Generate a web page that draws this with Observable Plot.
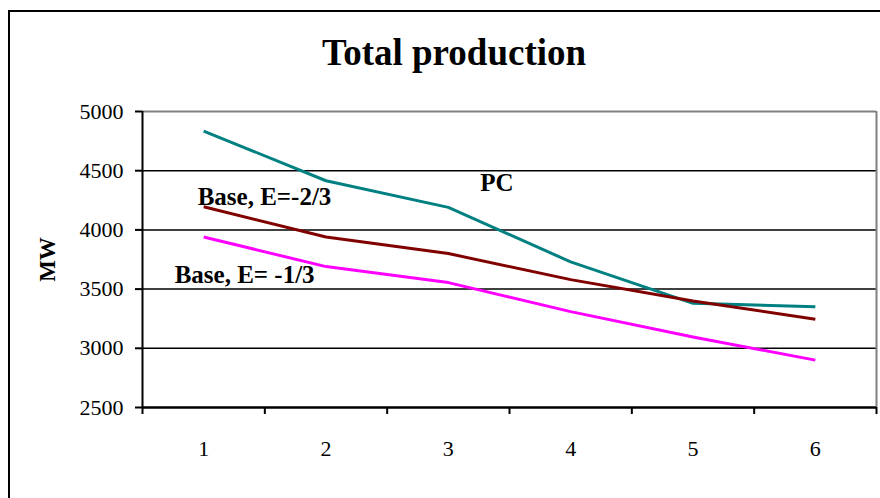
<!DOCTYPE html>
<html><head><meta charset="utf-8">
<script src="https://cdn.jsdelivr.net/npm/d3@7"></script>
<script src="https://cdn.jsdelivr.net/npm/@observablehq/plot@0.6"></script>
<style>
html,body{margin:0;padding:0;background:#fff;overflow:hidden;}
#wrap{position:relative;width:880px;height:498px;overflow:hidden;font-family:"Liberation Serif","Times New Roman",serif;}
#frame{position:absolute;left:8px;top:10px;width:900px;height:600px;border:2px solid #000;box-sizing:border-box;pointer-events:none;}
#title{position:absolute;left:0;top:34px;width:908px;text-align:center;font-size:37px;line-height:37px;font-weight:bold;color:#000;}
#chart{position:absolute;left:0;top:0;}
</style></head>
<body>
<div id="wrap">
  <div id="chart"></div>
  <div id="frame"></div>
  <div id="title">Total production</div>
</div>
<script>
const categories = [1, 2, 3, 4, 5, 6];
const pc        = [4835, 4415, 4190, 3730, 3380, 3350];
const baseTwo   = [4195, 3940, 3800, 3580, 3400, 3245];
const baseOne   = [3940, 3690, 3555, 3310, 3095, 2900];
const seriesNames = ["PC", "Base, E=-2/3", "Base, E= -1/3"];
const yTicks = [2500, 3000, 3500, 4000, 4500, 5000];
const gridTicks = [3000, 3500, 4000, 4500];
const yLabel = "MW";

const colors = {"PC": "#008080", "Base, E=-2/3": "#800000", "Base, E= -1/3": "#FF00FF"};
const seriesValues = [pc, baseTwo, baseOne];
const rows = seriesNames.flatMap((s, i) => categories.map((c, j) => ({series: s, x: c, y: seriesValues[i][j]})));
const bounds = [categories[0] - 0.5, ...categories.map(c => c + 0.5)];

const font = "Liberation Serif, Times New Roman, serif";

const chart = Plot.plot({
  width: 880,
  height: 498,
  marginTop: 111,
  marginBottom: 91,
  marginLeft: 142,
  marginRight: 4,
  style: {fontFamily: font, background: "transparent", color: "#000", overflow: "visible"},
  x: {type: "linear", domain: [bounds[0], bounds[bounds.length - 1]]},
  y: {domain: [yTicks[0], yTicks[yTicks.length - 1]]},
  marks: [
    Plot.ruleY(gridTicks, {stroke: "#000", strokeWidth: 1.5}),
    Plot.ruleY([yTicks[yTicks.length - 1]], {stroke: "#808080", strokeWidth: 2}),
    Plot.ruleX([bounds[bounds.length - 1]], {stroke: "#808080", strokeWidth: 2}),
    Plot.line(rows, {x: "x", y: "y", z: "series", stroke: d => colors[d.series], strokeWidth: 3, strokeLinejoin: "round", strokeLinecap: "butt"}),
    Plot.ruleX([bounds[0]], {stroke: "#000", strokeWidth: 2}),
    Plot.ruleY([yTicks[0]], {stroke: "#000", strokeWidth: 2.5}),
    Plot.axisY({ticks: yTicks, tickSize: 7, tickPadding: 12, tickFormat: d => String(d), fontSize: 22, label: null, strokeWidth: 2}),
    Plot.axisX({ticks: bounds, tickSize: 7, tickFormat: () => "", label: null, strokeWidth: 2}),
    Plot.axisX({ticks: categories, tickSize: 0, tickPadding: 33, tickFormat: d => String(d), fontSize: 22, label: null}),
    Plot.text([yLabel], {frameAnchor: "left", dx: -95, rotate: -90, fontSize: 23, fontWeight: "bold", textAnchor: "middle", lineAnchor: "middle"}),
    Plot.text([{x: categories[0], y: baseTwo[0], t: seriesNames[1]}], {x: "x", y: "y", text: "t", textAnchor: "start", lineAnchor: "bottom", dx: -6, dy: -2, fontSize: 25, fontWeight: "bold"}),
    Plot.text([{x: categories[0], y: baseOne[0], t: seriesNames[2]}], {x: "x", y: "y", text: "t", textAnchor: "start", lineAnchor: "bottom", dx: -29, dy: 46, fontSize: 25, fontWeight: "bold"}),
    Plot.text([{x: categories[2], y: pc[2], t: seriesNames[0]}], {x: "x", y: "y", text: "t", textAnchor: "start", lineAnchor: "bottom", dx: 32, dy: -16, fontSize: 25, fontWeight: "bold"})
  ]
});
document.getElementById("chart").appendChild(chart);
</script>
</body></html>
